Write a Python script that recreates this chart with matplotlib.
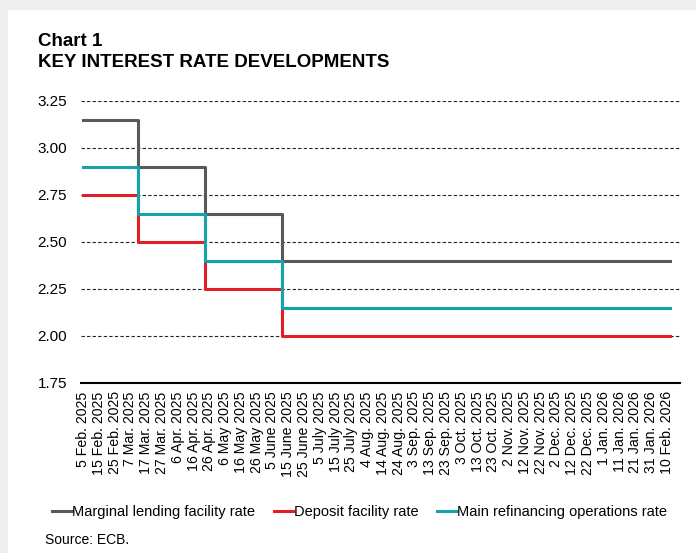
import matplotlib
matplotlib.use("Agg")
import matplotlib.pyplot as plt
from matplotlib.patches import Rectangle
import datetime as dt

plt.rcParams['font.family'] = ['Liberation Sans', 'DejaVu Sans']

# Data: policy rate change dates (effective) and rates
change_dates = ["2025-02-05", "2025-03-12", "2025-04-23", "2025-06-11", "2026-02-12"]
marginal_lending = [3.15, 2.90, 2.65, 2.40, 2.40]
deposit_facility = [2.75, 2.50, 2.25, 2.00, 2.00]
main_refinancing = [2.90, 2.65, 2.40, 2.15, 2.15]

tick_dates = ["2025-02-05", "2025-02-15", "2025-02-25", "2025-03-07", "2025-03-17", "2025-03-27",
              "2025-04-06", "2025-04-16", "2025-04-26", "2025-05-06", "2025-05-16", "2025-05-26",
              "2025-06-05", "2025-06-15", "2025-06-25", "2025-07-05", "2025-07-15", "2025-07-25",
              "2025-08-04", "2025-08-14", "2025-08-24", "2025-09-03", "2025-09-13", "2025-09-23",
              "2025-10-03", "2025-10-13", "2025-10-23", "2025-11-02", "2025-11-12", "2025-11-22",
              "2025-12-02", "2025-12-12", "2025-12-22", "2026-01-01", "2026-01-11", "2026-01-21",
              "2026-01-31", "2026-02-10"]
tick_labels = ["5 Feb. 2025", "15 Feb. 2025", "25 Feb. 2025", "7 Mar. 2025", "17 Mar. 2025", "27 Mar. 2025",
               "6 Apr. 2025", "16 Apr. 2025", "26 Apr. 2025", "6 May 2025", "16 May 2025", "26 May 2025",
               "5 June 2025", "15 June 2025", "25 June 2025", "5 July 2025", "15 July 2025", "25 July 2025",
               "4 Aug. 2025", "14 Aug. 2025", "24 Aug. 2025", "3 Sep. 2025", "13 Sep. 2025", "23 Sep. 2025",
               "3 Oct. 2025", "13 Oct. 2025", "23 Oct. 2025", "2 Nov. 2025", "12 Nov. 2025", "22 Nov. 2025",
               "2 Dec. 2025", "12 Dec. 2025", "22 Dec. 2025", "1 Jan. 2026", "11 Jan. 2026", "21 Jan. 2026",
               "31 Jan. 2026", "10 Feb. 2026"]
y_ticks = [1.75, 2.00, 2.25, 2.50, 2.75, 3.00, 3.25]

to_date = lambda s: dt.datetime.strptime(s, "%Y-%m-%d")
cd = [to_date(s) for s in change_dates]
td = [to_date(s) for s in tick_dates]

fig = plt.figure(figsize=(6.96, 5.53), dpi=100)
fig.patch.set_facecolor("white")
# light grey frame strips (top and left)
fig.patches.append(Rectangle((0, 1 - 10/553), 1, 10/553, transform=fig.transFigure,
                             facecolor="#eeeeee", edgecolor="none", zorder=0))
fig.patches.append(Rectangle((0, 0), 8/696, 1, transform=fig.transFigure,
                             facecolor="#eeeeee", edgecolor="none", zorder=0))

ax = fig.add_axes([81/696, 1 - 383/553, (680 - 81)/696, (383 - 101)/553])

c_gray = "#595959"
c_red = "#e41e26"
c_teal = "#14a3a8"
lw = 2.2
l1, = ax.step(cd, marginal_lending, where="post", color=c_gray, lw=lw, label="Marginal lending facility rate", zorder=3)
l2, = ax.step(cd, deposit_facility, where="post", color=c_red, lw=lw, label="Deposit facility rate", zorder=3)
l3, = ax.step(cd, main_refinancing, where="post", color=c_teal, lw=lw, label="Main refinancing operations rate", zorder=4)

ax.set_ylim(1.75, 3.25)
ax.set_yticks(y_ticks)
ax.set_yticklabels([f"{v:.2f}" for v in y_ticks], fontsize=11)
ax.set_xlim(to_date("2025-02-05") - dt.timedelta(days=1.3), to_date("2026-02-10") + dt.timedelta(days=8.3))
ax.set_xticks(td)
ax.set_xticklabels(tick_labels, rotation=90, fontsize=10.2)
ax.tick_params(axis="both", length=0)
ax.tick_params(axis="x", pad=6)
ax.tick_params(axis="y", pad=10)

for y in y_ticks[1:]:
    ax.axhline(y, color="#222222", lw=0.8, ls=(0, (3, 2)), zorder=1)

for s in ["left", "right", "top"]:
    ax.spines[s].set_visible(False)
ax.spines["bottom"].set_color("black")
ax.spines["bottom"].set_linewidth(1.5)

fig.text(38/696, 1 - 42/553, "Chart 1", fontsize=13.5, fontweight="bold", va="center", ha="left")
fig.text(38/696, 1 - 63/553, "KEY INTEREST RATE DEVELOPMENTS", fontsize=13.5, fontweight="bold", va="center", ha="left")

leg = fig.legend(handles=[l1, l2, l3], loc="center left", bbox_to_anchor=(52/696, 1 - 512/553),
                 ncol=3, frameon=False, fontsize=10.5, handlelength=1.35, handletextpad=0.05,
                 columnspacing=1.25, borderaxespad=0, borderpad=0)
fig.text(45/696, 1 - 540/553, "Source: ECB.", fontsize=10, va="center", ha="left")

fig.savefig("out.png", dpi=100)
